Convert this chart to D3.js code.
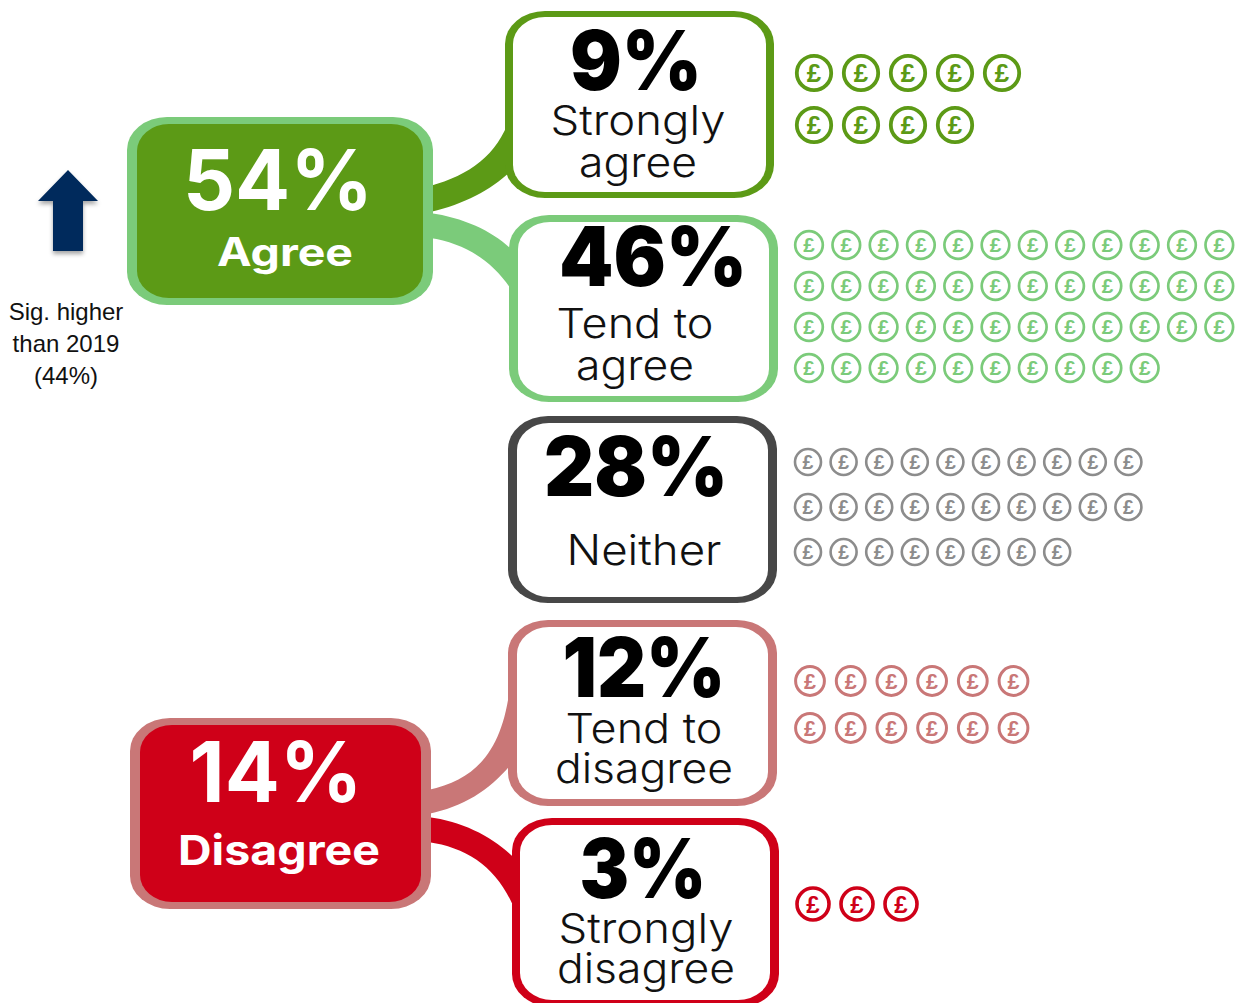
<!DOCTYPE html>
<html><head><meta charset="utf-8">
<script src="https://cdn.jsdelivr.net/npm/d3@7"></script>
<style>html,body{margin:0;padding:0;background:#fff;overflow:hidden}svg{display:block}</style>
</head><body><svg id="c" width="1239" height="1003"></svg>
<script>
// Data
const categories = ["Strongly agree","Tend to agree","Neither","Tend to disagree","Strongly disagree"];
const values = [9,46,28,12,3];
const iconRows = [[5,4],[12,12,12,10],[10,10,8],[6,6],[3]];
const groups = ["Agree","Disagree"];
const groupValues = [54,14];
const noteLines = ["Sig. higher","than 2019","(44%)"];

// Layout and style
const cardLayout = [
 {o:[505,11,774,198],i:[513,17,766,192],col:"#5c9a16",numX:636,numY:90,numW:132,lines:[[638,135,175,41],[638,177,118,41]],ico:{x0:814,dx:47,ys:[73,125],r:17.2,sw:3.8}},
 {o:[509,215,778,402],i:[518,222,769,396],col:"#7bcb7a",numX:653,numY:286,numW:188,lines:[[635,338,157,41],[635,380,118,41]],ico:{x0:809,dx:37.3,ys:[245,286,327,368],r:13.8,sw:2.7}},
 {o:[508,416,777,603],i:[517,423,768,597],col:"#474747",numX:636,numY:496,numW:184,lines:[[644,565,155,42]],ico:{x0:808,dx:35.6,ys:[462,507,552],r:13,sw:2.6}},
 {o:[508,620,777,806],i:[517,627,768,799],col:"#c97777",numX:644,numY:697,numW:163,lines:[[644,743,157,41],[644,783,178,41]],ico:{x0:810,dx:40.7,ys:[681,728],r:14.4,sw:3}},
 {o:[512,818,779,1007],i:[520,825,770,1000],col:"#cf0018",numX:643,numY:898,numW:127,lines:[[646,943,175,41],[646,983,178,41]],ico:{x0:813,dx:44,ys:[904],r:16,sw:3.6}}
];
const groupLayout = [
 {o:[127,117,433,305],i:[137,124,423,298],fill:"#5c9a16",stroke:"#7bcb7a",numX:278,numY:210,numW:190,labX:285,labY:266,labW:136,labS:39},
 {o:[130,718,431,909],i:[140,725,421,902],fill:"#cf0018",stroke:"#c97777",numX:276,numY:802,numW:173,labX:279,labY:865,labW:202,labS:41}
];
const connectors = [
 {col:"#5c9a16",d:"M430,186 C470,175 497,155 510,118 L510,172 C490,190 465,204 430,212 Z"},
 {col:"#7bcb7a",d:"M430,213 C465,218 495,232 514,252 L514,294 C495,262 465,243 430,238 Z"},
 {col:"#c97777",d:"M428,790 C485,778 508,740 512,663 L512,763 C490,790 465,806 428,814 Z"},
 {col:"#cf0018",d:"M428,817 C465,822 495,838 516,860 L516,913 C500,870 470,848 428,842 Z"}
];

const svg = d3.select("#c");
const defs = svg.append("defs");
const f = defs.append("filter").attr("id","sh").attr("x","-30%").attr("y","-30%").attr("width","160%").attr("height","160%");
f.append("feDropShadow").attr("dx",0).attr("dy",3).attr("stdDeviation",2).attr("flood-color","#000").attr("flood-opacity",0.35);

const HEAD = "Inter, 'Open Sans', sans-serif";

function roundBox(sel, box, fill, rx, ry){
  sel.append("rect")
    .attr("x",(d,i)=>box(i)[0]).attr("y",(d,i)=>box(i)[1])
    .attr("width",(d,i)=>box(i)[2]-box(i)[0]).attr("height",(d,i)=>box(i)[3]-box(i)[1])
    .attr("rx",rx).attr("ry",ry).attr("fill",fill);
}

// connectors
svg.append("g").selectAll("path").data(connectors).join("path")
  .attr("d",d=>d.d).attr("fill",d=>d.col);

// group boxes
const gg = svg.append("g").selectAll("g").data(groups).join("g");
roundBox(gg,i=>groupLayout[i].o,(d,i)=>groupLayout[i].stroke,40,33);
roundBox(gg,i=>groupLayout[i].i,(d,i)=>groupLayout[i].fill,32,27);
gg.append("text")
  .attr("x",(d,i)=>groupLayout[i].numX).attr("y",(d,i)=>groupLayout[i].numY)
  .attr("text-anchor","middle").attr("font-family",HEAD).attr("font-weight",700).attr("font-size",84).attr("fill","#fff")
  .attr("lengthAdjust","spacingAndGlyphs").attr("textLength",(d,i)=>groupLayout[i].numW)
  .text((d,i)=>groupValues[i]+"%");
gg.append("text")
  .attr("x",(d,i)=>groupLayout[i].labX).attr("y",(d,i)=>groupLayout[i].labY)
  .attr("text-anchor","middle").attr("font-family",HEAD).attr("font-weight",700).attr("font-size",(d,i)=>groupLayout[i].labS).attr("fill","#fff")
  .attr("lengthAdjust","spacingAndGlyphs").attr("textLength",(d,i)=>groupLayout[i].labW)
  .text(d=>d);

// cards
const cg = svg.append("g").selectAll("g").data(categories).join("g");
roundBox(cg,i=>cardLayout[i].o,(d,i)=>cardLayout[i].col,40,33);
roundBox(cg,i=>cardLayout[i].i,"#fff",32,27);
cg.append("text")
  .attr("x",(d,i)=>cardLayout[i].numX).attr("y",(d,i)=>cardLayout[i].numY)
  .attr("text-anchor","middle").attr("font-family",HEAD).attr("font-weight",900).attr("font-size",82).attr("fill","#000")
  .attr("lengthAdjust","spacingAndGlyphs").attr("textLength",(d,i)=>cardLayout[i].numW)
  .text((d,i)=>values[i]+"%");
cg.each(function(d,i){
  const words = d==="Neither" ? ["Neither"] : d.startsWith("Strongly") ? ["Strongly",d.split(" ")[1]] : ["Tend to",d.split(" ")[2]];
  d3.select(this).selectAll("text.l").data(words).join("text").attr("class","l")
    .attr("x",(w,j)=>cardLayout[i].lines[j][0]).attr("y",(w,j)=>cardLayout[i].lines[j][1])
    .attr("text-anchor","middle").attr("font-family",HEAD).attr("font-weight",300).attr("font-size",(w,j)=>cardLayout[i].lines[j][3]).attr("fill","#111")
    .attr("lengthAdjust","spacingAndGlyphs").attr("textLength",(w,j)=>cardLayout[i].lines[j][2])
    .text(w=>w);
});

// pound icons: one per percentage point
categories.forEach((c,i)=>{
  const L = cardLayout[i], rows = iconRows[i];
  const col = L.col==="#474747" ? "#8c8c8c" : L.col;
  const maxCols = d3.max(rows);
  const xs = d3.scaleLinear().domain([0,maxCols-1]).range([L.ico.x0,L.ico.x0+L.ico.dx*(maxCols-1)]);
  const ys = d3.scalePoint().domain(d3.range(rows.length)).range([L.ico.ys[0],L.ico.ys[L.ico.ys.length-1]]);
  const items = [];
  let left = values[i];
  rows.forEach((n,r)=>{ d3.range(Math.min(n,left)).forEach(k=>items.push({r,k})); left -= n; });
  const g = svg.append("g").attr("class","icons").selectAll("g").data(items).join("g")
    .attr("transform",d=>`translate(${xs(d.k)},${ys(d.r)})`);
  g.append("circle").attr("r",L.ico.r).attr("fill","#fff").attr("stroke",col).attr("stroke-width",L.ico.sw);
  g.append("text").attr("text-anchor","middle").attr("dy","0.36em")
    .attr("font-family","'Liberation Sans',sans-serif").attr("font-weight",700).attr("font-size",L.ico.r*1.5)
    .attr("fill",col).text("£");
});

// arrow
const arrowPts = [[68,170],[98,201],[83,201],[83,251],[53,251],[53,201],[38,201]];
svg.append("path").attr("d",d3.line()(arrowPts)+"Z").attr("fill","#002b5c").attr("filter","url(#sh)");

// note
svg.append("g").selectAll("text").data(noteLines).join("text")
  .attr("x",66).attr("y",(d,i)=>320+32*i).attr("text-anchor","middle")
  .attr("font-family","'Liberation Sans',Arial,sans-serif").attr("font-size",24).attr("fill","#111").text(d=>d);
</script></body></html>
